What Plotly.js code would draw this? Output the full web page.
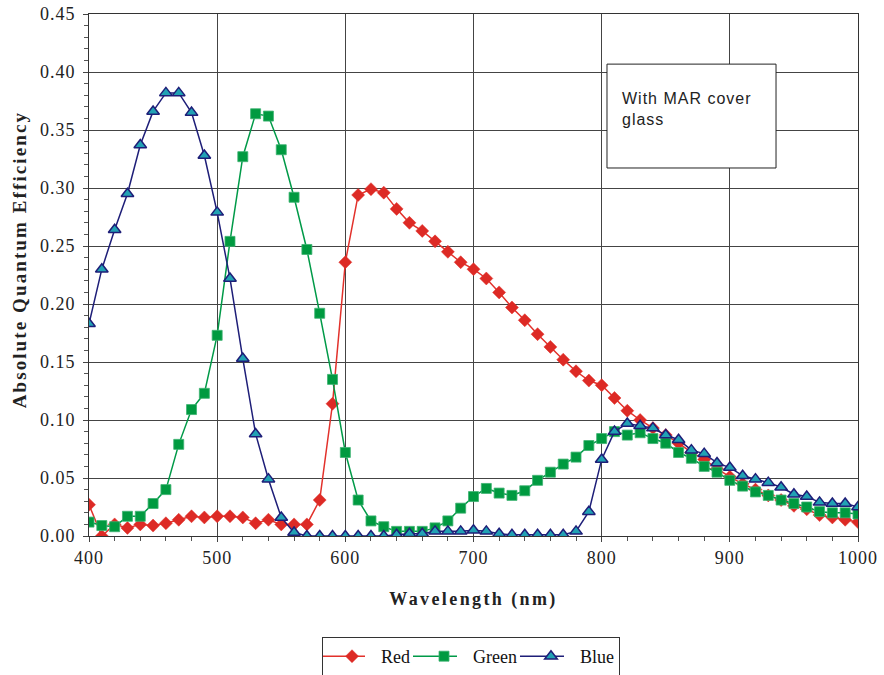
<!DOCTYPE html>
<html>
<head>
<meta charset="utf-8">
<script src="https://cdn.plot.ly/plotly-3.0.1.min.js"></script>
<style>
html,body{margin:0;padding:0;background:#fff;}
#chart{width:884px;height:675px;}
#chart .xtick text, #chart .ytick text { letter-spacing: 1px; }
#chart .g-xtitle text { letter-spacing: 2.4px; }
#chart .annotation[data-index="0"] .annotation-text { letter-spacing: 1px; }
#chart .annotation[data-index="1"] .annotation-text { letter-spacing: 2.1px; }
</style>
</head>
<body>
<div id="chart"></div>
<script>
const wavelength = [400,410,420,430,440,450,460,470,480,490,
  500,510,520,530,540,550,560,570,580,590,
  600,610,620,630,640,650,660,670,680,690,
  700,710,720,730,740,750,760,770,780,790,
  800,810,820,830,840,850,860,870,880,890,
  900,910,920,930,940,950,960,970,980,990,1000];

const redQE = [0.027,0.000,0.010,0.007,0.010,0.009,0.011,0.014,0.017,0.016,
  0.017,0.017,0.016,0.011,0.014,0.010,0.010,0.010,0.031,0.114,
  0.236,0.294,0.299,0.296,0.282,0.270,0.263,0.254,0.245,0.236,
  0.230,0.222,0.210,0.197,0.186,0.174,0.163,0.152,0.142,0.134,
  0.130,0.119,0.108,0.100,0.093,0.087,0.080,0.072,0.066,0.058,
  0.051,0.045,0.040,0.035,0.031,0.026,0.023,0.018,0.016,0.014,0.012];

const greenQE = [0.012,0.009,0.008,0.017,0.017,0.028,0.040,0.079,0.109,0.123,
  0.173,0.254,0.327,0.364,0.362,0.333,0.292,0.247,0.192,0.135,
  0.072,0.031,0.013,0.008,0.004,0.004,0.004,0.007,0.013,0.024,
  0.034,0.041,0.037,0.035,0.039,0.048,0.055,0.062,0.068,0.078,
  0.084,0.090,0.087,0.089,0.084,0.080,0.072,0.067,0.060,0.055,
  0.048,0.043,0.038,0.035,0.031,0.028,0.025,0.021,0.020,0.020,0.019];

const blueQE = [0.183,0.230,0.264,0.295,0.337,0.366,0.382,0.382,0.365,0.328,
  0.279,0.222,0.153,0.088,0.049,0.016,0.003,0.000,0.000,0.000,
  0.000,0.000,0.000,0.000,0.001,0.002,0.002,0.004,0.004,0.004,
  0.005,0.004,0.002,0.001,0.001,0.001,0.001,0.001,0.004,0.021,
  0.066,0.090,0.097,0.095,0.093,0.087,0.083,0.074,0.071,0.063,
  0.059,0.052,0.049,0.046,0.042,0.036,0.034,0.029,0.028,0.028,0.025];

const seriesNames = ['Red','Green','Blue'];
const yTickVals = [0,0.05,0.10,0.15,0.20,0.25,0.30,0.35,0.40,0.45];
const yTickText = ['0.00','0.05','0.10','0.15','0.20','0.25','0.30','0.35','0.40','0.45'];
const noteText = 'With MAR cover<br>glass';
const xTitle = 'Wavelength (nm)';
const yTitle = 'Absolute Quantum Efficiency';

const serif = '"Liberation Serif", "Times New Roman", serif';

const traces = [
  {x: wavelength, y: redQE, name: seriesNames[0], type: 'scatter', mode: 'lines+markers',
   line: {color: '#e2312b', width: 1.5},
   marker: {symbol: 'diamond', size: 10, color: '#dd2a25', line: {color: '#e0302a', width: 0.5}}},
  {x: wavelength, y: greenQE, name: seriesNames[1], type: 'scatter', mode: 'lines+markers',
   line: {color: '#009a48', width: 1.5},
   marker: {symbol: 'square', size: 10, color: '#009a40', line: {color: '#3cb371', width: 0.8}}},
  {x: wavelength, y: blueQE, name: seriesNames[2], type: 'scatter', mode: 'lines+markers',
   line: {color: '#1e1e78', width: 1.5},
   marker: {symbol: 'triangle-up', size: 11, color: '#22a2b4', line: {color: '#1e1e78', width: 1.5}}}
];

const layout = {
  width: 884, height: 675,
  margin: {l: 89, r: 26, t: 14, b: 139, autoexpand: false},
  paper_bgcolor: '#fff', plot_bgcolor: '#fff',
  font: {family: serif, size: 16, color: '#222'},
  showlegend: true,
  legend: {
    orientation: 'h', xref: 'container', x: 322 / 884, xanchor: 'left',
    yref: 'container', y: 1 - 637 / 675, yanchor: 'top',
    bgcolor: '#fff', bordercolor: '#333', borderwidth: 1,
    font: {family: serif, size: 18, color: '#111'},
    itemwidth: 48, traceorder: 'normal'
  },
  xaxis: {
    range: [400, 1000], dtick: 100, tick0: 400, automargin: false,
    showgrid: true, gridcolor: '#444', gridwidth: 1,
    showline: true, linecolor: '#333', linewidth: 1, mirror: true,
    ticks: 'outside', ticklen: 5, tickcolor: '#444',
    minor: {dtick: 20, ticks: 'outside', ticklen: 4, tickcolor: '#555', showgrid: false},
    zeroline: false,
    tickfont: {family: serif, size: 18, color: '#222'},
    title: {text: '<b>' + xTitle + '</b>', standoff: 25,
            font: {family: serif, size: 18, color: '#222'}},
    fixedrange: true
  },
  yaxis: {
    range: [0, 0.45], tickvals: yTickVals, ticktext: yTickText, automargin: false,
    showgrid: true, gridcolor: '#444', gridwidth: 1,
    showline: true, linecolor: '#333', linewidth: 1, mirror: true,
    ticks: 'outside', ticklen: 5, tickcolor: '#444', ticklabelstandoff: 4,
    minor: {dtick: 0.01, ticks: 'outside', ticklen: 4, tickcolor: '#555', showgrid: false},
    zeroline: false,
    tickfont: {family: serif, size: 18, color: '#222'},
    fixedrange: true
  },
  shapes: [{
    type: 'rect', xref: 'paper', yref: 'paper',
    x0: 0.6736, x1: 0.8934, y0: 0.705, y1: 0.904,
    fillcolor: '#fff', line: {color: '#222', width: 1}, layer: 'above'
  }],
  annotations: [{
    xref: 'paper', yref: 'paper', x: 0.690, y: 0.858,
    xanchor: 'left', yanchor: 'top', align: 'left', showarrow: false,
    text: noteText,
    font: {family: '"Liberation Sans", Arial, sans-serif', size: 16, color: '#222'}
  }, {
    xref: 'paper', yref: 'paper', x: (19 - 89) / 769, y: (536 - 260) / 522,
    xanchor: 'center', yanchor: 'middle', textangle: -90, showarrow: false,
    text: '<b>' + yTitle + '</b>',
    font: {family: serif, size: 19, color: '#222'}
  }]
};

Plotly.newPlot('chart', traces, layout, {displayModeBar: false, staticPlot: true}).then(function () {
  document.querySelectorAll('#chart .legendlines path').forEach(function (p) {
    p.setAttribute('d', 'M-2,0h44');
  });
});
</script>
</body>
</html>
